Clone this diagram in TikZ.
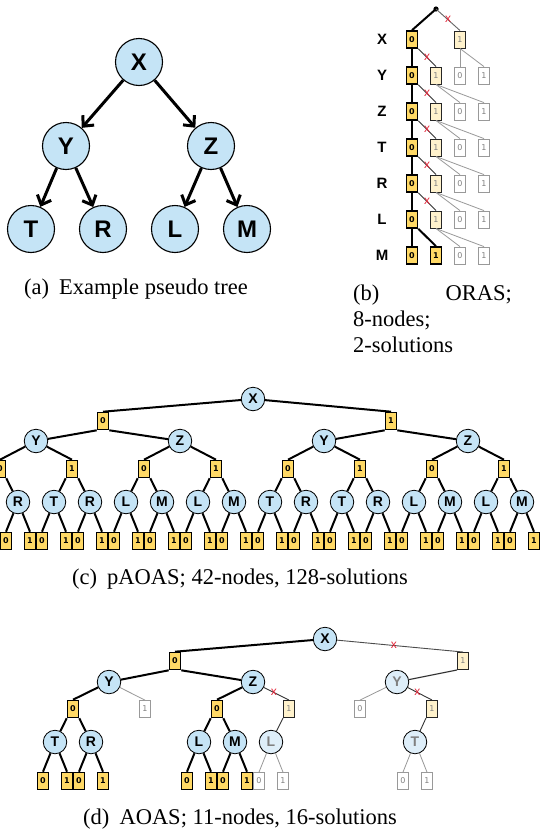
\documentclass[tikz,border=0pt]{standalone}
\usepackage{fontspec}
\setmainfont{Liberation Serif}
\setsansfont{Liberation Sans}
\newfontfamily\digitfont{DejaVu Sans}
\usetikzlibrary{arrows.meta}
\definecolor{cblue}{RGB}{197,228,246}
\definecolor{cfade}{RGB}{222,238,249}
\definecolor{ybold}{RGB}{255,217,102}
\definecolor{ylight}{RGB}{255,242,204}
\definecolor{xred}{RGB}{230,40,60}
\begin{document}
\begin{tikzpicture}[x=1pt,y=-1pt,
  bigc/.style={circle,draw,line width=1.1pt,fill=cblue,minimum size=47pt,inner sep=0pt,font=\sffamily\bfseries\fontsize{24}{24}\selectfont},
  smc/.style={circle,draw,line width=0.8pt,fill=cblue,minimum size=23.5pt,inner sep=0pt,font=\sffamily\bfseries\fontsize{14}{14}\selectfont},
  fadec/.style={smc,fill=cfade,text=black!50},
  boxbase/.style={rectangle,minimum width=11pt,minimum height=17pt,inner sep=0pt,font=\digitfont\fontsize{8}{8}\selectfont},
  bbox/.style={boxbase,draw=black,line width=1.6pt,fill=ybold,font=\digitfont\bfseries\fontsize{8}{8}\selectfont},
  lbox/.style={boxbase,draw=black!85,line width=1pt,fill=ylight,text=black!50},
  gbox/.style={boxbase,draw=black!40,line width=0.8pt,fill=white,text=black!50},
  boldln/.style={line width=2pt},
  thinln/.style={line width=0.9pt,black!80},
  grayln/.style={line width=0.8pt,black!40},
  xm/.style={text=xred,font=\sffamily\fontsize{12}{12}\selectfont,inner sep=0pt},
  arr/.style={line width=3pt,-{Straight Barb[length=8pt,width=15pt,line cap=butt]}},
  rowlab/.style={font=\sffamily\bfseries\fontsize{15}{15}\selectfont},
  captxt/.style={font=\fontsize{22.5}{26}\selectfont,inner sep=0pt},
]
\useasboundingbox (0,0) rectangle (542,838);
\clip (0,0) rectangle (542,838);
\fill[white] (0,0) rectangle (542,838);

% ---------------- (a) pseudo tree
\node[bigc] (aX) at (139,62) {X};
\node[bigc] (aY) at (66,146) {Y};
\node[bigc] (aZ) at (211,146) {Z};
\node[bigc] (aT) at (31,229) {T};
\node[bigc] (aR) at (103,229) {R};
\node[bigc] (aL) at (175,229) {L};
\node[bigc] (aM) at (247,229) {M};
\draw[arr] (aX) -- (aY);
\draw[arr] (aX) -- (aZ);
\draw[arr] (aY) -- (aT);
\draw[arr] (aY) -- (aR);
\draw[arr] (aZ) -- (aL);
\draw[arr] (aZ) -- (aM);
\node[captxt,anchor=base] (capa) at (136,294) {(a)\hspace{0.45em}Example pseudo tree};

% ---------------- (b) ORAS
\fill (436,9) circle (2.6pt);
\coordinate (broot) at (436,9);
\foreach \i/\lab in {0/X,1/Y,2/Z,3/T,4/R,5/L,6/M} {
  \node[rowlab] (bl-\i) at (382,{39.5+36*\i}) {\lab};
  \node[bbox] (b\i-0) at (412,{39.5+36*\i}) {0};
}
\node[lbox] (b0-1) at (460,39.5) {1};
\foreach \i in {1,...,5} {
  \node[lbox] (b\i-1) at (436,{39.5+36*\i}) {1};
}
\node[bbox] (b6-1) at (436,255.5) {1};
\foreach \i in {1,...,6} {
  \node[gbox] (b\i-g0) at (460,{39.5+36*\i}) {0};
  \node[gbox] (b\i-g1) at (484,{39.5+36*\i}) {1};
}
\draw[boldln] (broot) -- (b0-0.north);
\draw[thinln,black!60] (broot) -- node[xm] (bx0) {x} (b0-1.north);
\foreach \i [evaluate=\i as \j using int(\i-1)] in {1,...,6} {
  \draw[boldln] (b\j-0.south) -- (b\i-0.north);
}
\foreach \i [evaluate=\i as \j using int(\i-1)] in {1,...,5} {
  \draw[thinln] (b\j-0.south east) -- node[xm] (bx\i) {x} (b\i-1.north);
}
\draw[boldln] (b5-0.south east) -- (b6-1.north);
\foreach \i [evaluate=\i as \j using int(\i-1)] in {1,...,6} {
  \draw[grayln] (b\j-1.south) -- (b\i-g0.north);
  \draw[grayln] (b\j-1.south) -- (b\i-g1.north);
}
\node[captxt,anchor=base west] (capb1) at (353,300) {(b)};
\node[captxt,anchor=base east] (capb2) at (512,300) {ORAS;};
\node[captxt,anchor=base west] (capb3) at (353,326) {8-nodes;};
\node[captxt,anchor=base west] (capb4) at (353,352) {2-solutions};

% ---------------- (c) pAOAS
\node[smc] (cX) at (253,399) {X};
\node[bbox] (c1-0) at (103,421) {0};
\node[bbox] (c1-1) at (391,421) {1};
\draw[boldln] (cX) -- (c1-0.north);
\draw[boldln] (cX) -- (c1-1.north);
\node[smc] (c2-0) at (36,441) {Y};
\node[smc] (c2-1) at (180,441) {Z};
\node[smc] (c2-2) at (324,441) {Y};
\node[smc] (c2-3) at (468,441) {Z};
\draw[boldln] (c1-0.south west) -- (c2-0);
\draw[boldln] (c1-0.south east) -- (c2-1);
\draw[boldln] (c1-1.south west) -- (c2-2);
\draw[boldln] (c1-1.south east) -- (c2-3);
\foreach \k in {0,...,7} {
  \pgfmathtruncatemacro\pp{floor(\k/2)}
  \pgfmathtruncatemacro\vv{mod(\k,2)}
  \node[bbox] (c3-\k) at ({72*\k},469) {\vv};
  \draw[boldln] (c2-\pp) -- (c3-\k.north);
}
\foreach \j in {0,...,15} {
  \pgfmathtruncatemacro\pp{floor(\j/2)}
  \pgfmathtruncatemacro\gg{mod(floor(\j/4),2)}
  \pgfmathtruncatemacro\qq{mod(\j,2)}
  \ifnum\gg=0 \ifnum\qq=0 \def\lab{T}\else\def\lab{R}\fi
  \else \ifnum\qq=0 \def\lab{L}\else\def\lab{M}\fi\fi
  \node[smc] (c4-\j) at ({36*\j-18},502) {\lab};
  \ifnum\qq=0
    \draw[boldln] (c3-\pp.south west) -- (c4-\j);
  \else
    \draw[boldln] (c3-\pp.south east) -- (c4-\j);
  \fi
  \node[bbox] (c5-\j-0) at ({36*\j-30},541) {0};
  \node[bbox] (c5-\j-1) at ({36*\j-6},541) {1};
  \draw[boldln] (c4-\j) -- (c5-\j-0.north);
  \draw[boldln] (c4-\j) -- (c5-\j-1.north);
}
\node[captxt,anchor=base] (capc) at (240,584) {(c)\hspace{0.45em}pAOAS; 42-nodes, 128-solutions};

% ---------------- (d) AOAS
\node[smc] (dX) at (325,639) {X};
\node[bbox] (d1a) at (175,661) {0};
\node[lbox] (d1b) at (463,661) {1};
\node[smc] (dY) at (109,682) {Y};
\node[smc] (dZ) at (253,682) {Z};
\node[fadec] (dYf) at (397,682) {Y};
\node[bbox] (d3a) at (73,709) {0};
\node[gbox] (d3b) at (145,709) {1};
\node[bbox] (d3c) at (217,709) {0};
\node[lbox] (d3d) at (289,709) {1};
\node[gbox] (d3e) at (360,709) {0};
\node[lbox] (d3f) at (432,709) {1};
\node[smc] (dT) at (55,742) {T};
\node[smc] (dR) at (91,742) {R};
\node[smc] (dL) at (199,742) {L};
\node[smc] (dM) at (235,742) {M};
\node[fadec] (dLf) at (271,742) {L};
\node[fadec] (dTf) at (415,742) {T};
\foreach \n/\xx in {dT/55,dR/91,dL/199,dM/235} {
  \node[bbox] (\n-0) at ({\xx-12},781) {0};
  \node[bbox] (\n-1) at ({\xx+12},781) {1};
  \draw[boldln] (\n) -- (\n-0.north);
  \draw[boldln] (\n) -- (\n-1.north);
}
\foreach \n/\xx in {dLf/271,dTf/415} {
  \node[gbox] (\n-0) at ({\xx-12},781) {0};
  \node[gbox] (\n-1) at ({\xx+12},781) {1};
  \draw[grayln] (\n) -- (\n-0.north);
  \draw[grayln] (\n) -- (\n-1.north);
}
\draw[boldln] (dX) -- (d1a.north);
\draw[thinln,black!70] (dX) -- node[xm,pos=0.45] (dx1) {x} (d1b.north);
\draw[boldln] (d1a.south west) -- (dY);
\draw[boldln] (d1a.south east) -- (dZ);
\draw[thinln,line width=1.1pt] (d1b.south west) -- (dYf);
\draw[boldln] (dY) -- (d3a.north);
\draw[grayln] (dY) -- (d3b.north);
\draw[boldln] (dZ) -- (d3c.north);
\draw[thinln] (dZ) -- node[xm,pos=0.4] (dx2) {x} (d3d.north);
\draw[grayln] (dYf) -- (d3e.north);
\draw[thinln] (dYf) -- node[xm,pos=0.4] (dx3) {x} (d3f.north);
\draw[boldln] (d3a.south west) -- (dT);
\draw[boldln] (d3a.south east) -- (dR);
\draw[boldln] (d3c.south west) -- (dL);
\draw[boldln] (d3c.south east) -- (dM);
\draw[thinln] (d3d.south west) -- (dLf);
\draw[thinln] (d3f.south west) -- (dTf);
\node[captxt,anchor=base] (capd) at (240,824) {(d)\hspace{0.45em}AOAS; 11-nodes, 16-solutions};
\end{tikzpicture}
\end{document}
